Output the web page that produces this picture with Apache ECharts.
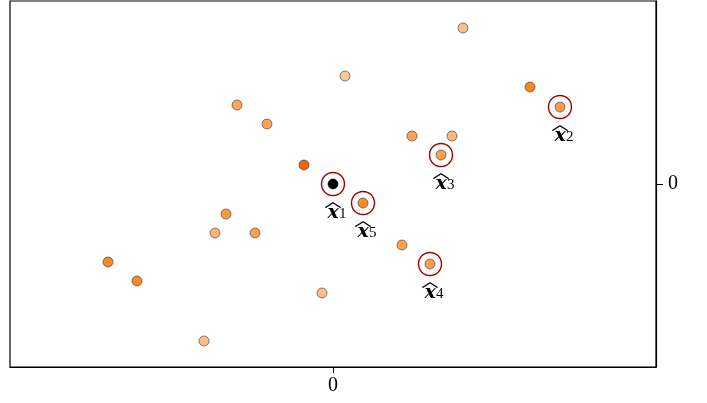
<!DOCTYPE html>
<html>
<head>
<meta charset="utf-8">
<script src="https://cdn.jsdelivr.net/npm/echarts@6/dist/echarts.min.js"></script>
<style>html,body{margin:0;padding:0;background:#fff}#c{width:707px;height:403px}</style>
</head>
<body>
<div id="c"></div>
<script>
// Lattice points (x, y) and colour weight
const ptsX = [130, 12, 197, 227, -96, -66, 79, 119, 108, -29, 30, -107, -118, -78, 69, 97, -225, -196, -11, -129];
const ptsY = [156, 108, 97, 77, 79, 60, 48, 48, 29, 19, -19, -30, -49, -49, -61, -80, -78, -97, -109, -157];
const ptsW = [0.17, 0.10, 0.75, 0.52, 0.42, 0.42, 0.46, 0.22, 0.50, 0.95, 0.72, 0.56, 0.25, 0.48, 0.48, 0.50, 0.74, 0.74, 0.17, 0.17];
// Center point
const centerPt = [0, 0];
// Highlighted points
const hiNames = ['1', '2', '3', '4', '5'];
const hiX = [0, 227, 108, 97, 30];
const hiY = [0, 77, 29, -80, -19];
const xTicks = [0];
const yTicks = [0];

const chart = echarts.init(document.getElementById('c'));
const serif = 'Liberation Serif';
chart.setOption({
  animation: false,
  grid: {left: 10, right: 51, top: 1, bottom: 36, show: true, borderColor: '#000', borderWidth: 1.2, backgroundColor: 'transparent'},
  xAxis: {
    type: 'value', min: -323, max: 323, interval: 323,
    splitLine: {show: false},
    axisLine: {show: true, onZero: false, lineStyle: {color: '#000', width: 1.2}},
    axisTick: {show: true, length: 6, lineStyle: {color: '#000'}, customValues: xTicks},
    axisLabel: {fontFamily: serif, fontSize: 20, color: '#000', margin: 9, customValues: xTicks}
  },
  yAxis: {
    type: 'value', min: -183, max: 183, interval: 183, position: 'right',
    splitLine: {show: false},
    axisLine: {show: true, onZero: false, lineStyle: {color: '#000', width: 1.2}},
    axisTick: {show: true, length: 7, lineStyle: {color: '#000'}, customValues: yTicks},
    axisLabel: {fontFamily: serif, fontSize: 20, color: '#000', margin: 12, customValues: yTicks}
  },
  visualMap: {
    show: false, type: 'continuous', dimension: 2, min: 0, max: 1, seriesIndex: [0],
    inRange: {color: ['#fdd3a5', '#fdb677', '#fd9f4e', '#f98a22', '#e8600a'], opacity: [1, 1]}
  },
  series: [
    {
      type: 'scatter', symbolSize: 10,
      itemStyle: {borderColor: '#333', borderWidth: 0.6, opacity: 1},
      data: ptsX.map((x, i) => [x, ptsY[i], ptsW[i]])
    },
    {
      type: 'scatter', symbolSize: 10,
      itemStyle: {color: '#000', borderColor: '#000', borderWidth: 0.6, opacity: 1},
      data: [centerPt]
    },
    {
      type: 'scatter', symbolSize: 23, z: 5,
      itemStyle: {color: 'rgba(0,0,0,0)', borderColor: '#a00000', borderWidth: 1.4, opacity: 1},
      label: {
        show: true, position: 'bottom', distance: 0,
        formatter: p => '{h|︿}\n{x|x}{s|' + p.name + '}',
        rich: {
          h: {fontFamily: 'Noto Sans CJK SC', fontSize: 17, lineHeight: 8, color: '#000'},
          x: {fontFamily: 'DejaVu Serif', fontStyle: 'italic', fontWeight: 'bold', fontSize: 19, lineHeight: 17, color: '#000', padding: [0, 0, 0, 8]},
          s: {fontFamily: serif, fontSize: 15, lineHeight: 17, color: '#000', verticalAlign: 'bottom', padding: [7, 0, 0, 0]}
        }
      },
      data: hiX.map((x, i) => ({name: hiNames[i], value: [x, hiY[i]]}))
    }
  ]
});
</script>
</body>
</html>
